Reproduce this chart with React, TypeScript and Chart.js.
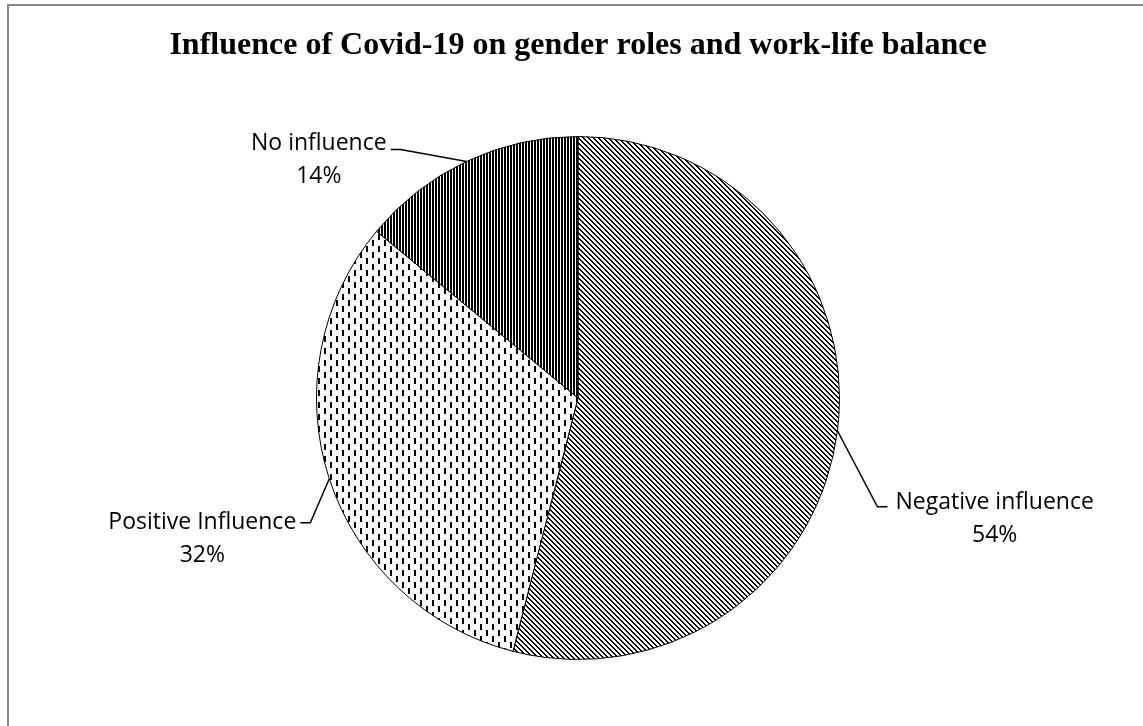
import React, { useEffect, useRef } from "react";
import { Chart, registerables } from "chart.js";

Chart.register(...registerables);

const TITLE = "Influence of Covid-19 on gender roles and work-life balance";
const categories = ["Negative influence", "Positive Influence", "No influence"];
const values = [54, 32, 14];
const percentLabels = ["54%", "32%", "14%"];

// label leader geometry (elbow offset from slice edge point, side, text shift)
const leaderOffsets = [
  { dx: 40, dy: 76, side: 1, textDy: -4 },
  { dx: -19, dy: 44, side: -1, textDy: 0 },
  { dx: -66, dy: -12, side: -1, textDy: -6 },
];

function makeTile(w: number, h: number, isBlack: (x: number, y: number) => boolean) {
  const c = document.createElement("canvas");
  c.width = w;
  c.height = h;
  const ctx = c.getContext("2d")!;
  ctx.fillStyle = "#fff";
  ctx.fillRect(0, 0, w, h);
  ctx.fillStyle = "#000";
  for (let y = 0; y < h; y++) {
    for (let x = 0; x < w; x++) {
      if (isBlack(x, y)) ctx.fillRect(x, y, 1, 1);
    }
  }
  return c;
}

function makePatterns(ctx: CanvasRenderingContext2D) {
  const diag = makeTile(5, 5, (x, y) => {
    const m = (((x - y) % 5) + 5) % 5;
    return m === 0 || m === 1;
  });
  const dashed = makeTile(12, 12, (x, y) => {
    if (x >= 0 && x < 2 && y < 6) return true;
    if (x >= 6 && x < 8 && y >= 6) return true;
    return false;
  });
  const vert = makeTile(3, 1, (x) => x < 2);
  return [
    ctx.createPattern(diag, "repeat"),
    ctx.createPattern(dashed, "repeat"),
    ctx.createPattern(vert, "repeat"),
  ];
}

const titlePlugin = {
  id: "freeTitle",
  afterDraw(chart: any) {
    const ctx: CanvasRenderingContext2D = chart.ctx;
    const area = chart.chartArea;
    ctx.save();
    ctx.font = "bold 32px 'Liberation Serif', 'Times New Roman', serif";
    ctx.fillStyle = "#000";
    ctx.textAlign = "center";
    ctx.textBaseline = "middle";
    ctx.fillText(TITLE, (area.left + area.right) / 2, 46);
    ctx.restore();
  },
};

const labelPlugin = {
  id: "leaderLabels",
  afterDatasetsDraw(chart: any) {
    const ctx: CanvasRenderingContext2D = chart.ctx;
    const meta = chart.getDatasetMeta(0);
    ctx.save();
    ctx.font = "23px 'Open Sans'";
    ctx.fillStyle = "#000";
    ctx.strokeStyle = "#000";
    ctx.lineWidth = 1.5;
    meta.data.forEach((arc: any, i: number) => {
      const { x, y, startAngle, endAngle, outerRadius } = arc.getProps(
        ["x", "y", "startAngle", "endAngle", "outerRadius"],
        true
      );
      const mid = (startAngle + endAngle) / 2;
      const ex = x + Math.cos(mid) * outerRadius;
      const ey = y + Math.sin(mid) * outerRadius;
      const off = leaderOffsets[i];
      const bx = ex + off.dx;
      const by = ey + off.dy;
      const tx = bx + off.side * 10;
      ctx.beginPath();
      ctx.moveTo(ex, ey);
      ctx.lineTo(bx, by);
      ctx.lineTo(tx, by);
      ctx.stroke();
      const l1 = categories[i];
      const l2 = percentLabels[i];
      const w1 = ctx.measureText(l1).width;
      const cx = off.side > 0 ? tx + 8 + w1 / 2 : tx - 4 - w1 / 2;
      ctx.textAlign = "center";
      ctx.textBaseline = "middle";
      ctx.fillText(l1, cx, by + off.textDy);
      ctx.fillText(l2, cx, by + off.textDy + 33);
    });
    ctx.restore();
  },
};

export default function App() {
  const ref = useRef<HTMLCanvasElement>(null);
  useEffect(() => {
    const canvas = ref.current!;
    const ctx = canvas.getContext("2d")!;
    const patterns = makePatterns(ctx);
    const chart = new Chart(canvas, {
      type: "pie",
      data: {
        labels: categories,
        datasets: [
          {
            data: values,
            backgroundColor: patterns as any,
            borderColor: "#000",
            borderWidth: 1,
          },
        ],
      },
      options: {
        responsive: false,
        animation: false,
        layout: { padding: { left: 316, right: 303, top: 136, bottom: 66 } },
        plugins: {
          legend: { display: false },
          tooltip: { enabled: false },
          title: { display: false },
        },
      },
      plugins: [labelPlugin, titlePlugin],
    });
    return () => chart.destroy();
  }, []);
  return (
    <div>
      <canvas
        ref={ref}
        width={1143}
        height={726}
        style={{ position: "absolute", left: 0, top: 0, width: 1143, height: 726 }}
      />
      <div
        style={{
          position: "absolute",
          left: 7,
          top: 4,
          width: 1136,
          height: 722,
          boxSizing: "border-box",
          borderLeft: "2px solid #878787",
          borderTop: "2px solid #878787",
          pointerEvents: "none",
        }}
      />
    </div>
  );
}
